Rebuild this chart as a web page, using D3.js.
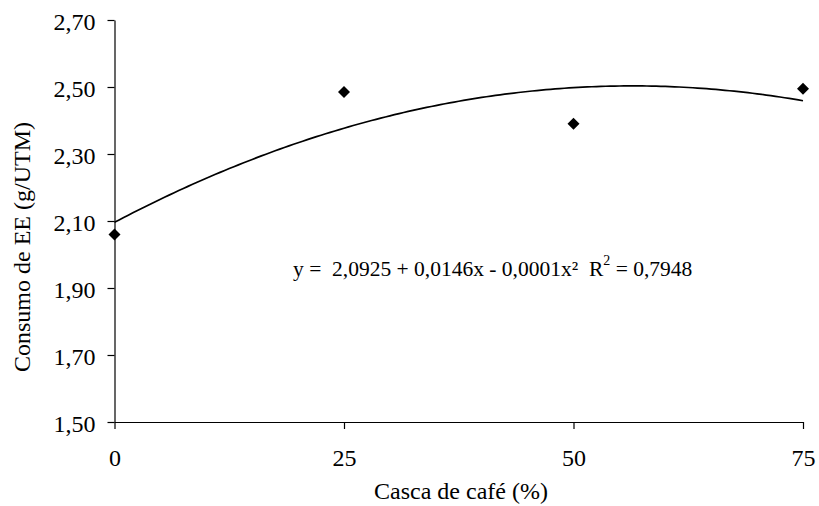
<!DOCTYPE html>
<html><head><meta charset="utf-8">
<script src="https://cdn.jsdelivr.net/npm/d3@7"></script>
<style>body{margin:0;background:#fff}svg text{font-family:"Liberation Serif","Times New Roman",serif;fill:#000;white-space:pre}</style>
</head><body>
<svg id="c" width="819" height="506"></svg>
<script>
const xValues = [0, 25, 50, 75];
const yValues = [2.06, 2.485, 2.39, 2.495];
const xTicks = [0, 25, 50, 75];
const yTicks = [1.5, 1.7, 1.9, 2.1, 2.3, 2.5, 2.7];
const xTitle = "Casca de café (%)";
const yTitle = "Consumo de EE (g/UTM)";
const eqText = "y =  2,0925 + 0,0146x - 0,0001x²";
const r2Text = " = 0,7948";

const FS = 24, EQFS = 21.5;
const svg = d3.select("#c");
const x = d3.scaleLinear().domain([0, 75]).range([114.5, 803]);
const y = d3.scaleLinear().domain([1.5, 2.7]).range([422, 20]);
const fmt = d => d.toFixed(2).replace(".", ",");

// least-squares quadratic fit from the data
function fitQuad(xs, ys) {
  let S = [[0,0,0],[0,0,0],[0,0,0]], b = [0,0,0];
  xs.forEach((xi, i) => {
    const v = [1, xi, xi*xi];
    for (let r = 0; r < 3; r++) { b[r] += v[r]*ys[i]; for (let c = 0; c < 3; c++) S[r][c] += v[r]*v[c]; }
  });
  const A = S.map((row, i) => row.concat([b[i]]));
  for (let i = 0; i < 3; i++) {
    for (let k = i+1; k < 3; k++) {
      const f = A[k][i]/A[i][i];
      for (let j = i; j < 4; j++) A[k][j] -= f*A[i][j];
    }
  }
  const c = [0,0,0];
  for (let i = 2; i >= 0; i--) {
    let s = A[i][3];
    for (let j = i+1; j < 3; j++) s -= A[i][j]*c[j];
    c[i] = s/A[i][i];
  }
  return c;
}
const coef = fitQuad(xValues, yValues);
const trend = d3.range(0, 75.01, 0.5).map(v => [v, coef[0] + coef[1]*v + coef[2]*v*v]);

// axes
const yAxis = d3.axisLeft(y).tickValues(yTicks).tickFormat(fmt).tickSize(7).tickSizeOuter(0);
const gy = svg.append("g").attr("transform", `translate(${x(0)},0)`).call(yAxis)
  .attr("font-family", null).attr("font-size", null);
gy.selectAll("text").attr("font-size", FS).attr("x", -19).attr("dy", "0.38em");
const xAxis = d3.axisBottom(x).tickValues(xTicks).tickFormat(d => d).tickSize(7).tickSizeOuter(0);
const gx = svg.append("g").attr("transform", `translate(0,${y(1.5)})`).call(xAxis)
  .attr("font-family", null).attr("font-size", null);
gx.selectAll("text").attr("font-size", FS).attr("y", 44).attr("dy", 0);
svg.selectAll(".domain, .tick line").attr("stroke", "#000").attr("stroke-width", 1.2);

// trend line
svg.append("path").datum(trend)
  .attr("d", d3.line().x(d => x(d[0])).y(d => y(d[1])))
  .attr("fill", "none").attr("stroke", "#000").attr("stroke-width", 1.7);

// points
svg.append("g").selectAll("path").data(xValues.map((v, i) => [v, yValues[i]])).join("path")
  .attr("transform", d => `translate(${x(d[0])},${y(d[1])})`)
  .attr("d", "M0,-6L6,0L0,6L-6,0Z").attr("fill", "#000");

// titles
svg.append("text").attr("x", 461).attr("y", 499).attr("text-anchor", "middle")
  .attr("font-size", FS).text(xTitle);
svg.append("text").attr("transform", "translate(30,247) rotate(-90)").attr("text-anchor", "middle")
  .attr("font-size", FS).text(yTitle);

// equation
const eq = svg.append("text").attr("x", 293).attr("y", 276).attr("font-size", EQFS);
eq.append("tspan").text(eqText);
eq.append("tspan").attr("x", 589).text("R");
eq.append("tspan").attr("dy", -11).attr("font-size", 14).text("2");
eq.append("tspan").attr("dy", 11).text(r2Text);
</script>
</body></html>
